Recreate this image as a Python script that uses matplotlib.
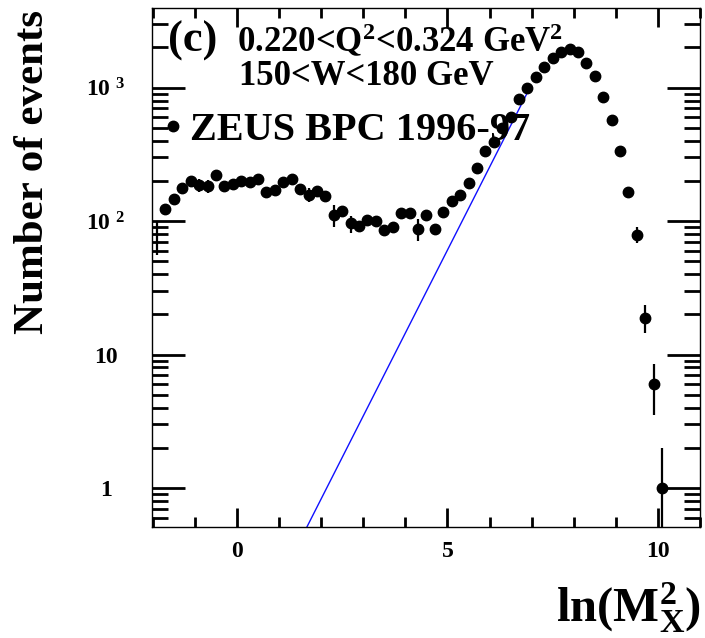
import matplotlib
matplotlib.use('Agg')
import matplotlib.pyplot as plt
from matplotlib.ticker import FixedLocator, FixedFormatter, LogLocator, MultipleLocator, NullFormatter
from matplotlib.lines import Line2D

plt.rcParams['font.family'] = ['Liberation Serif', 'DejaVu Serif']
plt.rcParams['font.weight'] = 'bold'
plt.rcParams['mathtext.fontset'] = 'custom'
plt.rcParams['mathtext.rm'] = 'Liberation Serif:bold'
plt.rcParams['mathtext.it'] = 'Liberation Serif:bold'
plt.rcParams['mathtext.bf'] = 'Liberation Serif:bold'

# ---------------- data ----------------
ln_mx2 = [-1.7, -1.5, -1.3, -1.1, -0.9, -0.7, -0.5, -0.3, -0.1, 0.1,
          0.3, 0.5, 0.7, 0.9, 1.1, 1.3, 1.5, 1.7, 1.9, 2.1,
          2.3, 2.5, 2.7, 2.9, 3.1, 3.3, 3.5, 3.7, 3.9, 4.1,
          4.3, 4.5, 4.7, 4.9, 5.1, 5.3, 5.5, 5.7, 5.9, 6.1,
          6.3, 6.5, 6.7, 6.9, 7.1, 7.3, 7.5, 7.7, 7.9, 8.1,
          8.3, 8.5, 8.7, 8.9, 9.1, 9.3, 9.5, 9.7, 9.9, 10.1]
n_events = [123, 147, 177, 200, 186, 183, 221, 183, 189, 200,
            197, 206, 166, 171, 197, 206, 173, 158, 169, 155,
            111, 119, 96, 92, 102, 100, 85, 91, 114, 114,
            87, 111, 87, 117, 141, 157, 194, 250, 333, 389,
            500, 604, 820, 986, 1205, 1432, 1655, 1855, 1932, 1835,
            1527, 1213, 845, 571, 334, 164, 79, 18.9, 6.0, 1.0]
n_err = [10, 10, 11, 12, 20, 20, 12, 12, 12, 12,
         12, 12, 11, 11, 12, 12, 11, 20, 11, 10,
         20, 9, 14, 8, 8, 8, 8, 8, 9, 9,
         16, 9, 8, 9, 10, 11, 12, 14, 16, 17,
         20, 22, 26, 28, 31, 34, 37, 39, 40, 39,
         35, 31, 26, 21, 16, 11, 11, 4.4, 2.45, 0.99]

# bin at the left edge: only its error bar is visible
edge_x = [-1.9]
edge_y = [78]
edge_err = [22]

# straight-line (exponential) fit on the log scale
fit_x = [1.66, 6.89]
fit_y = [0.51, 906]

y_tick_vals = [1, 10, 100, 1000]
y_tick_labels = ['1', '10', '10 $^{2}$', '10 $^{3}$']
x_tick_vals = [0, 5, 10]
x_tick_labels = ['0', '5', '10']

legend_label = 'ZEUS BPC 1996-97'

# ---------------- figure ----------------
W, H = 705, 638
fig = plt.figure(figsize=(W / 100, H / 100), dpi=100)


def fx(px):
    return px / W


def fy(py):
    return 1 - py / H


ax = fig.add_axes([fx(152), fy(527), fx(700) - fx(152), fy(8) - fy(527)])

ax.errorbar(ln_mx2, n_events, yerr=n_err, fmt='o', color='black', ms=7.5,
            elinewidth=1.6, capsize=0, zorder=3)
ax.errorbar(edge_x, edge_y, yerr=edge_err, fmt='none', ecolor='black',
            elinewidth=1.6, capsize=0)
ax.plot(fit_x, fit_y, color='#1010ff', lw=1.0, zorder=2)

ax.set_yscale('log')
ax.set_xlim(-2.02, 11.0)
ax.set_ylim(0.51, 3950)

ax.yaxis.set_major_locator(FixedLocator(y_tick_vals))
ax.yaxis.set_major_formatter(FixedFormatter(y_tick_labels))
ax.yaxis.set_minor_locator(LogLocator(base=10, subs=[2, 3, 4, 5, 6, 7, 8, 9], numticks=20))
ax.yaxis.set_minor_formatter(NullFormatter())
ax.xaxis.set_major_locator(FixedLocator(x_tick_vals))
ax.xaxis.set_major_formatter(FixedFormatter(x_tick_labels))
ax.xaxis.set_minor_locator(MultipleLocator(1))

ax.tick_params(which='both', direction='in', top=True, right=True, width=2)
ax.xaxis.set_tick_params(which='major', length=14, labelsize=17, pad=10)
ax.xaxis.set_tick_params(which='minor', length=7)
ax.yaxis.set_tick_params(which='major', length=24, labelsize=17, pad=33)
ax.yaxis.set_tick_params(which='minor', length=11.5)
for lab in ax.get_yticklabels():
    lab.set_horizontalalignment('center')

for sp in ax.spines.values():
    sp.set_linewidth(1.0)

# texts
fig.text(fx(168), fy(52), '(c)', fontsize=32, ha='left', va='baseline')
fig.text(fx(237), fy(52), '0.220<Q$^{2}$<0.324 GeV$^{2}$', fontsize=25,
         ha='left', va='baseline')
fig.text(fx(239), fy(85), '150<W<180 GeV', fontsize=25, ha='left', va='baseline')

handle = Line2D([], [], marker='o', ls='none', color='black', ms=7.5)
ax.legend([handle], [legend_label], loc='center left',
          bbox_to_anchor=(fx(163), fy(130)), bbox_transform=fig.transFigure,
          frameon=False, fontsize=29, handlelength=0.5,
          handletextpad=0.18, borderpad=0, borderaxespad=0)

fig.text(fx(33), fy(172), 'Number of events', rotation=90, fontsize=31,
         ha='center', va='center')
fig.text(fx(701), fy(622), 'ln(M$_{X}^{2}$)', fontsize=35, ha='right',
         va='baseline')

fig.savefig('out.png', dpi=100)
